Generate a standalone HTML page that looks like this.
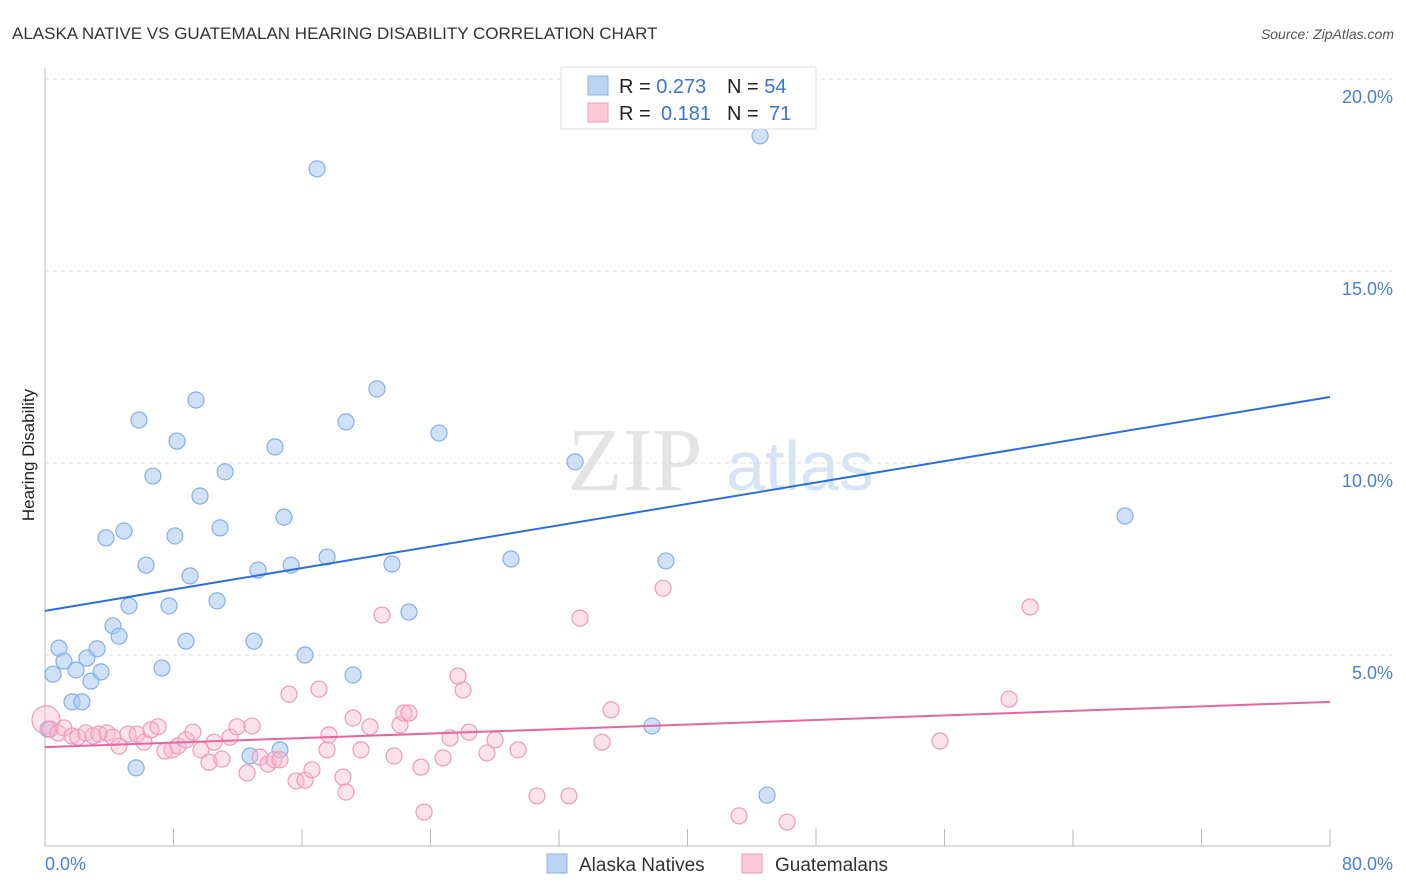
<!DOCTYPE html>
<html><head><meta charset="utf-8"><style>
body{margin:0;background:#fff;font-family:"Liberation Sans",sans-serif;}
#wrap{position:relative;width:1406px;height:892px;overflow:hidden;}
</style></head><body>
<div id="wrap">
<svg id="svg" width="1406" height="892" xmlns="http://www.w3.org/2000/svg">
<text x="12" y="39" font-size="17" fill="#333">ALASKA NATIVE VS GUATEMALAN HEARING DISABILITY CORRELATION CHART</text>
<text x="1394" y="39" font-size="14" fill="#555" text-anchor="end" font-style="italic">Source: ZipAtlas.com</text>
<text x="34" y="455" font-size="17" fill="#222" text-anchor="middle" transform="rotate(-90 34 455)">Hearing Disability</text>
<g><text x="635" y="490" font-size="90" fill="#e4e4e4" font-family="Liberation Serif,serif" text-anchor="middle">ZIP</text><text x="800" y="490" font-size="70" fill="#d6e4f5" text-anchor="middle">atlas</text></g>
<g id="grid"></g><g id="pts"></g><g id="lines"></g>
<g>
<rect x="561" y="67" width="255" height="62" fill="#fff" stroke="#ddd"/>
<rect x="588" y="76" width="20" height="19" fill="#bcd4f4" stroke="#8ab4e8"/>
<rect x="588" y="103" width="20" height="19" fill="#fbc9d8" stroke="#f09ab8"/>
<text x="619" y="93" font-size="20" fill="#222">R = <tspan fill="#3a74d0">0.273</tspan><tspan x="727">N = </tspan><tspan fill="#3a74d0">54</tspan></text>
<text x="619" y="120" font-size="20" fill="#222">R = <tspan x="661" fill="#3a74d0">0.181</tspan><tspan x="727">N = </tspan><tspan x="769" fill="#3a74d0">71</tspan></text>
</g>
<g>
<rect x="547" y="854" width="20" height="19" fill="#bcd4f4" stroke="#8ab4e8"/>
<text x="579" y="871" font-size="19" fill="#333">Alaska Natives</text>
<rect x="742" y="854" width="20" height="19" fill="#fbc9d8" stroke="#f09ab8"/>
<text x="775" y="871" font-size="19" fill="#333">Guatemalans</text>
</g>
<text x="45" y="870" font-size="18" fill="#4a7fd4">0.0%</text>
<text x="1393" y="870" font-size="18" fill="#4a7fd4" text-anchor="end">80.0%</text>
</svg></div>
<script>
const yTicks=[5,10,15,20];
const xTicks=[0,8,16,24,32,40,48,56,64,72,80];
const blueX=[0.19,0.5,0.87,1.18,1.68,1.93,2.3,2.61,2.86,3.24,3.49,3.8,4.23,4.61,4.92,5.23,5.67,5.85,6.29,6.72,7.28,7.72,8.09,8.22,8.78,9.03,9.4,9.65,10.71,10.9,11.21,12.76,13.01,13.26,14.32,14.63,14.88,15.32,16.19,16.94,17.56,18.74,19.18,20.67,21.6,22.66,24.53,29.01,33.0,37.79,38.66,44.52,44.95,67.24];
const blueY=[3.07,4.5,5.18,4.84,3.78,4.61,3.78,4.92,4.32,5.16,4.56,8.05,5.76,5.49,8.23,6.28,2.06,11.12,7.34,9.66,4.66,6.28,8.1,10.57,5.36,7.06,11.64,9.14,6.41,8.31,9.77,2.37,5.36,7.21,10.42,2.53,8.59,7.34,5.0,17.66,7.55,11.07,4.48,11.93,7.37,6.12,10.78,7.5,10.03,3.15,7.45,18.52,1.35,8.62];
const pinkX=[0.06,0.31,0.81,1.18,1.68,2.05,2.55,2.99,3.36,3.86,4.23,4.61,5.17,5.73,6.16,6.6,7.04,7.47,7.91,8.28,8.78,9.21,9.71,10.21,10.52,11.02,11.52,11.95,12.58,12.89,13.39,13.88,14.26,14.63,15.19,15.63,16.19,16.62,17.06,17.56,17.68,18.55,18.74,19.18,19.67,20.23,20.98,21.73,22.1,22.35,22.66,23.41,23.6,24.78,25.22,25.71,26.03,26.4,27.52,28.02,29.45,30.63,32.62,33.31,34.68,35.24,38.48,43.21,46.2,55.72,60.02,61.33];
const pinkY=[3.31,3.07,2.97,3.1,2.89,2.86,2.97,2.89,2.94,2.97,2.86,2.63,2.94,2.94,2.73,3.05,3.13,2.5,2.53,2.63,2.79,2.99,2.53,2.21,2.73,2.29,2.86,3.13,1.93,3.15,2.34,2.16,2.27,2.27,3.98,1.72,1.74,2.01,4.11,2.53,2.92,1.82,1.43,3.36,2.53,3.13,6.04,2.37,3.18,3.49,3.49,2.08,0.91,2.32,2.84,4.45,4.09,2.99,2.45,2.79,2.53,1.33,1.33,5.96,2.73,3.57,6.74,0.81,0.65,2.76,3.85,6.25];
const blueTrend=[6.15,11.72];
const pinkTrend=[2.6,3.78];
const NS='http://www.w3.org/2000/svg';
const sx=v=>45+v/80*1285;
const sy=v=>847-v*38.4;
function mk(tag,attrs,parent){const e=document.createElementNS(NS,tag);for(const k in attrs)e.setAttribute(k,attrs[k]);document.getElementById(parent).appendChild(e);return e;}
let ax=mk('line',{x1:45,y1:68,x2:45,y2:846,stroke:'#bbb'},'grid');


let bx=mk('line',{x1:45,y1:846,x2:1330,y2:846,stroke:'#bbb'},'grid');


yTicks.forEach(t=>{
 const g=mk('line',{x1:45,y1:sy(t),x2:1392,y2:sy(t),stroke:'#ddd','stroke-dasharray':'4,4'},'grid');
 
 
 const l=mk('text',{x:1393,y:sy(t)+24,'font-size':18,fill:'#4a7fd4','text-anchor':'end'},'grid');
 l.textContent=t.toFixed(1)+'%';
 
 
});
xTicks.forEach(t=>{
 const k=mk('line',{x1:sx(t),y1:829,x2:sx(t),y2:846,stroke:'#bbb'},'grid');
 
 
});
function pts(X,Y,fill,stroke,name){X.forEach((x,i)=>{
 const c=mk('circle',{cx:sx(x),cy:sy(Y[i]),r:(name==='pink-point'&&i===0)?14:8,fill:fill,stroke:stroke,'stroke-width':1.2},'pts');
 
 
});}
pts(blueX,blueY,'rgba(170,200,240,0.55)','#85b0e6','blue-point');
pts(pinkX,pinkY,'rgba(248,185,205,0.4)','#f09ab8','pink-point');
const bl=mk('line',{x1:sx(0),y1:sy(blueTrend[0]),x2:sx(80),y2:sy(blueTrend[1]),stroke:'#2d6fd6','stroke-width':2},'lines');


const pl=mk('line',{x1:sx(0),y1:sy(pinkTrend[0]),x2:sx(80),y2:sy(pinkTrend[1]),stroke:'#e8679a','stroke-width':2},'lines');


</script>
</body></html>
